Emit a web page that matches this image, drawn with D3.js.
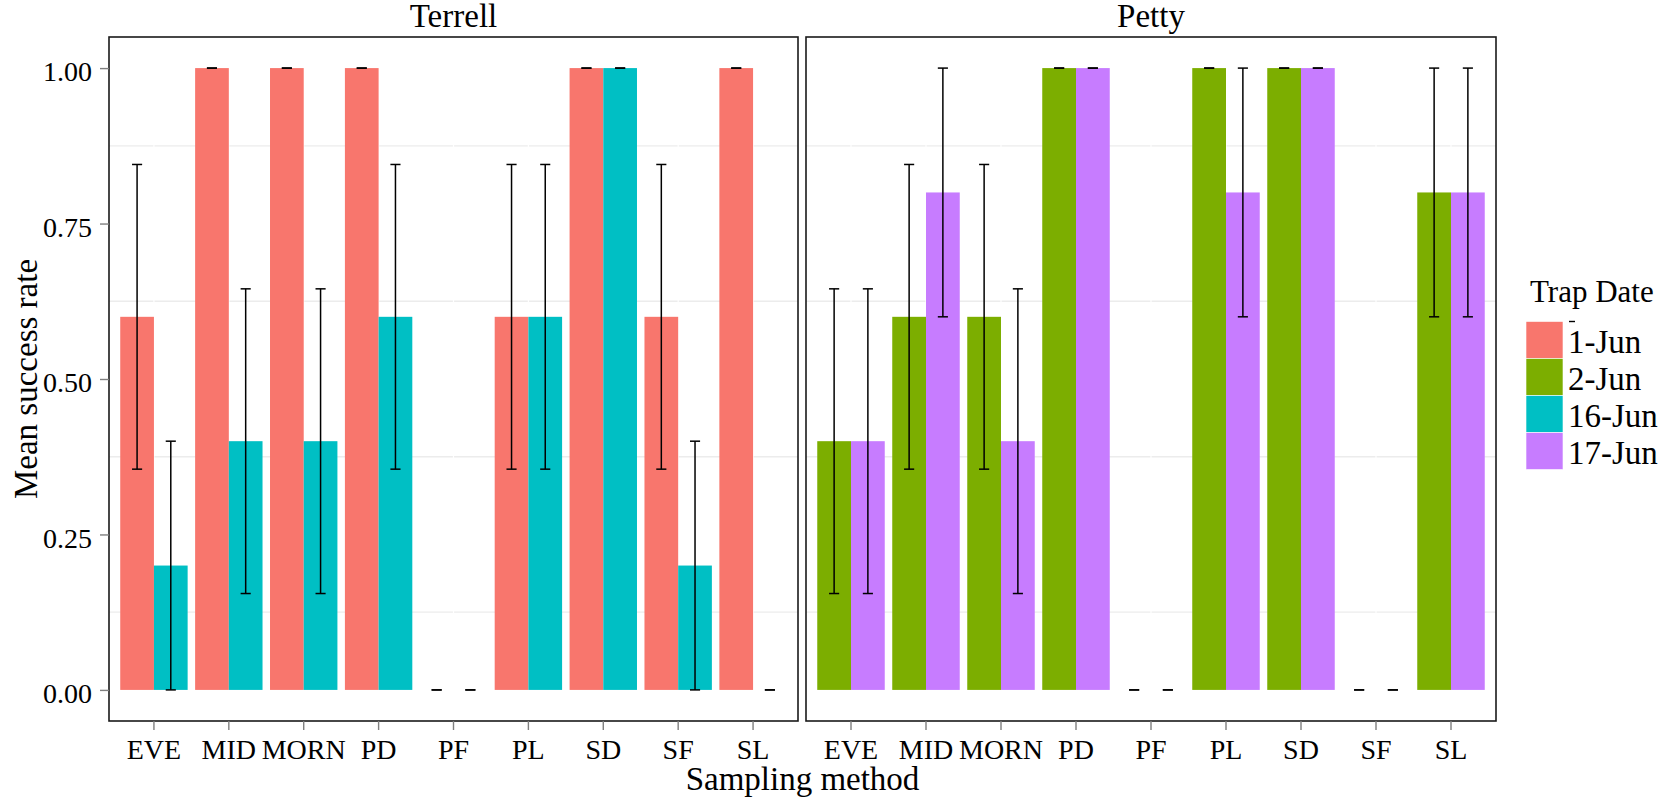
<!DOCTYPE html>
<html lang="en">
<head>
<meta charset="UTF-8">
<title>Mean success rate by sampling method</title>
<style>
    body { margin: 0; background: #fff; }
    svg text { font-family: "Liberation Serif", "Times New Roman", serif; fill: #000; }
    .tick text { font-size: 28px; }
    .tick line { stroke: #7f7f7f; stroke-width: 1.4; }
    .axis-title { font-size: 33px; }
    .strip { font-size: 33px; }
    .legend-title { font-size: 31px; }
    .legend-label { font-size: 33px; }
</style>
</head>
<body>

<svg width="1671" height="801"></svg>

<script src="https://d3js.org/d3.v7.min.js"></script>
<script>

    // Categories
    const methods = ['EVE', 'MID', 'MORN', 'PD', 'PF', 'PL', 'SD', 'SF', 'SL'];
    const sites = ['Terrell', 'Petty'];
    const dateLabels = ['1-Jun', '2-Jun', '16-Jun', '17-Jun'];
    const dateColors = ['#F8766D', '#7CAE00', '#00BFC4', '#C77CFF'];
    const yTicks = [0, 0.25, 0.5, 0.75, 1];
    const yMinor = [0.125, 0.375, 0.625, 0.875];

    // Terrell, 1-Jun
    const terrellJun1Mean = [0.6, 1, 1, 1, 0, 0.6, 1, 0.6, 1];
    const terrellJun1Lo   = [0.355, 1, 1, 1, 0, 0.355, 1, 0.355, 1];
    const terrellJun1Hi   = [0.845, 1, 1, 1, 0, 0.845, 1, 0.845, 1];

    // Terrell, 16-Jun
    const terrellJun16Mean = [0.2, 0.4, 0.4, 0.6, 0, 0.6, 1, 0.2, 0];
    const terrellJun16Lo   = [0, 0.155, 0.155, 0.355, 0, 0.355, 1, 0, 0];
    const terrellJun16Hi   = [0.4, 0.645, 0.645, 0.845, 0, 0.845, 1, 0.4, 0];

    // Petty, 2-Jun
    const pettyJun2Mean = [0.4, 0.6, 0.6, 1, 0, 1, 1, 0, 0.8];
    const pettyJun2Lo   = [0.155, 0.355, 0.355, 1, 0, 1, 1, 0, 0.6];
    const pettyJun2Hi   = [0.645, 0.845, 0.845, 1, 0, 1, 1, 0, 1];

    // Petty, 17-Jun
    const pettyJun17Mean = [0.4, 0.8, 0.4, 1, 0, 0.8, 1, 0, 0.8];
    const pettyJun17Lo   = [0.155, 0.6, 0.155, 1, 0, 0.6, 1, 0, 0.6];
    const pettyJun17Hi   = [0.645, 1, 0.645, 1, 0, 1, 1, 0, 1];

    const panels = [
        { site: sites[0], dates: ['1-Jun', '16-Jun'],
          series: [[terrellJun1Mean, terrellJun1Lo, terrellJun1Hi],
                   [terrellJun16Mean, terrellJun16Lo, terrellJun16Hi]] },
        { site: sites[1], dates: ['2-Jun', '17-Jun'],
          series: [[pettyJun2Mean, pettyJun2Lo, pettyJun2Hi],
                   [pettyJun17Mean, pettyJun17Lo, pettyJun17Hi]] }
    ];

    const color = d3.scaleOrdinal().domain(dateLabels).range(dateColors);

    const svg = d3.select('svg');

    const panelX = [[109, 798], [806, 1496]];
    const panelTop = 37;
    const panelBottom = 721;

    // ggplot-like 5% expansion of the y range
    const y = d3.scaleLinear().domain([-0.05, 1.05]).range([panelBottom, panelTop]);

    panels.forEach(function (p, i) {

        const x0 = d3.scaleBand()
            .domain(methods)
            .range(panelX[i])
            .paddingInner(0.1)
            .paddingOuter(0.15);

        const x1 = d3.scaleBand()
            .domain(p.dates)
            .range([0, x0.bandwidth()]);

        const g = svg.append('g');

        // minor grid
        g.selectAll('line.minor')
            .data(yMinor)
            .enter()
            .append('line')
            .attr('x1', panelX[i][0]).attr('x2', panelX[i][1])
            .attr('y1', d => y(d)).attr('y2', d => y(d))
            .attr('stroke', '#ececec')
            .attr('stroke-width', 1.3);

        // major vertical grid (white)
        g.selectAll('line.major')
            .data(methods)
            .enter()
            .append('line')
            .attr('x1', d => x0(d) + x0.bandwidth() / 2)
            .attr('x2', d => x0(d) + x0.bandwidth() / 2)
            .attr('y1', panelTop).attr('y2', panelBottom)
            .attr('stroke', '#fff')
            .attr('stroke-width', 1.2);

        const rows = [];
        p.series.forEach(function (s, k) {
            methods.forEach(function (m, j) {
                rows.push({ method: m, date: p.dates[k], mean: s[0][j], lo: s[1][j], hi: s[2][j] });
            });
        });

        // bars
        g.selectAll('rect.bar')
            .data(rows)
            .enter()
            .append('rect')
            .attr('x', d => x0(d.method) + x1(d.date))
            .attr('y', d => y(d.mean))
            .attr('width', x1.bandwidth())
            .attr('height', d => y(0) - y(d.mean))
            .attr('fill', d => color(d.date));

        // error bars
        const half = x1.bandwidth() * 0.15;
        const eb = g.selectAll('g.eb')
            .data(rows)
            .enter()
            .append('g')
            .attr('transform', d => 'translate(' + (x0(d.method) + x1(d.date) + x1.bandwidth() / 2) + ' 0)')
            .attr('stroke', '#000')
            .attr('stroke-width', 1.5);

        eb.append('line')
            .attr('x1', 0).attr('x2', 0)
            .attr('y1', d => y(d.lo)).attr('y2', d => y(d.hi));
        eb.append('line')
            .attr('x1', -half).attr('x2', half)
            .attr('y1', d => y(d.lo)).attr('y2', d => y(d.lo));
        eb.append('line')
            .attr('x1', -half).attr('x2', half)
            .attr('y1', d => y(d.hi)).attr('y2', d => y(d.hi));

        // panel border
        g.append('rect')
            .attr('x', panelX[i][0])
            .attr('y', panelTop)
            .attr('width', panelX[i][1] - panelX[i][0])
            .attr('height', panelBottom - panelTop)
            .attr('fill', 'none')
            .attr('stroke', '#1a1a1a')
            .attr('stroke-width', 1.6);

        // strip label
        g.append('text')
            .attr('class', 'strip')
            .attr('x', (panelX[i][0] + panelX[i][1]) / 2)
            .attr('y', 27)
            .attr('text-anchor', 'middle')
            .text(p.site);

        // x axis
        const xAxisG = g.append('g')
            .attr('transform', 'translate(0 ' + panelBottom + ')')
            .call(d3.axisBottom(x0).tickSize(9).tickPadding(9));
        xAxisG.select('.domain').remove();
        xAxisG.attr('font-family', null);

        // y axis on the first panel only
        if (i === 0) {
            const yAxisG = g.append('g')
                .attr('transform', 'translate(' + panelX[i][0] + ' 0)')
                .call(d3.axisLeft(y).tickValues(yTicks).tickFormat(d3.format('.2f')).tickSize(9).tickPadding(8));
            yAxisG.select('.domain').remove();
            yAxisG.attr('font-family', null);
            yAxisG.selectAll('.tick text').attr('dy', '0.45em');
        }
    });

    // axis titles
    svg.append('text')
        .attr('class', 'axis-title')
        .attr('x', (panelX[0][0] + panelX[1][1]) / 2)
        .attr('y', 790)
        .attr('text-anchor', 'middle')
        .text('Sampling method');

    svg.append('text')
        .attr('class', 'axis-title')
        .attr('transform', 'translate(37 ' + ((panelTop + panelBottom) / 2) + ') rotate(-90)')
        .attr('text-anchor', 'middle')
        .text('Mean success rate');

    // legend
    const legend = svg.append('g').attr('transform', 'translate(1526 0)');

    legend.append('text')
        .attr('class', 'legend-title')
        .attr('x', 4)
        .attr('y', 302)
        .text('Trap Date');

    const keyH = 37;
    const keyTop = 321.5;

    legend.selectAll('rect.key')
        .data(dateLabels)
        .enter()
        .append('rect')
        .attr('x', 0)
        .attr('y', (d, k) => keyTop + k * keyH)
        .attr('width', 37)
        .attr('height', keyH)
        .attr('fill', d => color(d))
        .attr('stroke', '#fff')
        .attr('stroke-width', 0.6);

    legend.selectAll('text.legend-label')
        .data(dateLabels)
        .enter()
        .append('text')
        .attr('class', 'legend-label')
        .attr('x', 42)
        .attr('y', (d, k) => keyTop + k * keyH + keyH / 2 + 12.5)
        .text(d => d);

    // small stray whisker glyph seen above the first key label
    legend.append('line')
        .attr('x1', 43).attr('x2', 49)
        .attr('y1', keyTop).attr('y2', keyTop)
        .attr('stroke', '#000')
        .attr('stroke-width', 1.4);

</script>
</body>
</html>
